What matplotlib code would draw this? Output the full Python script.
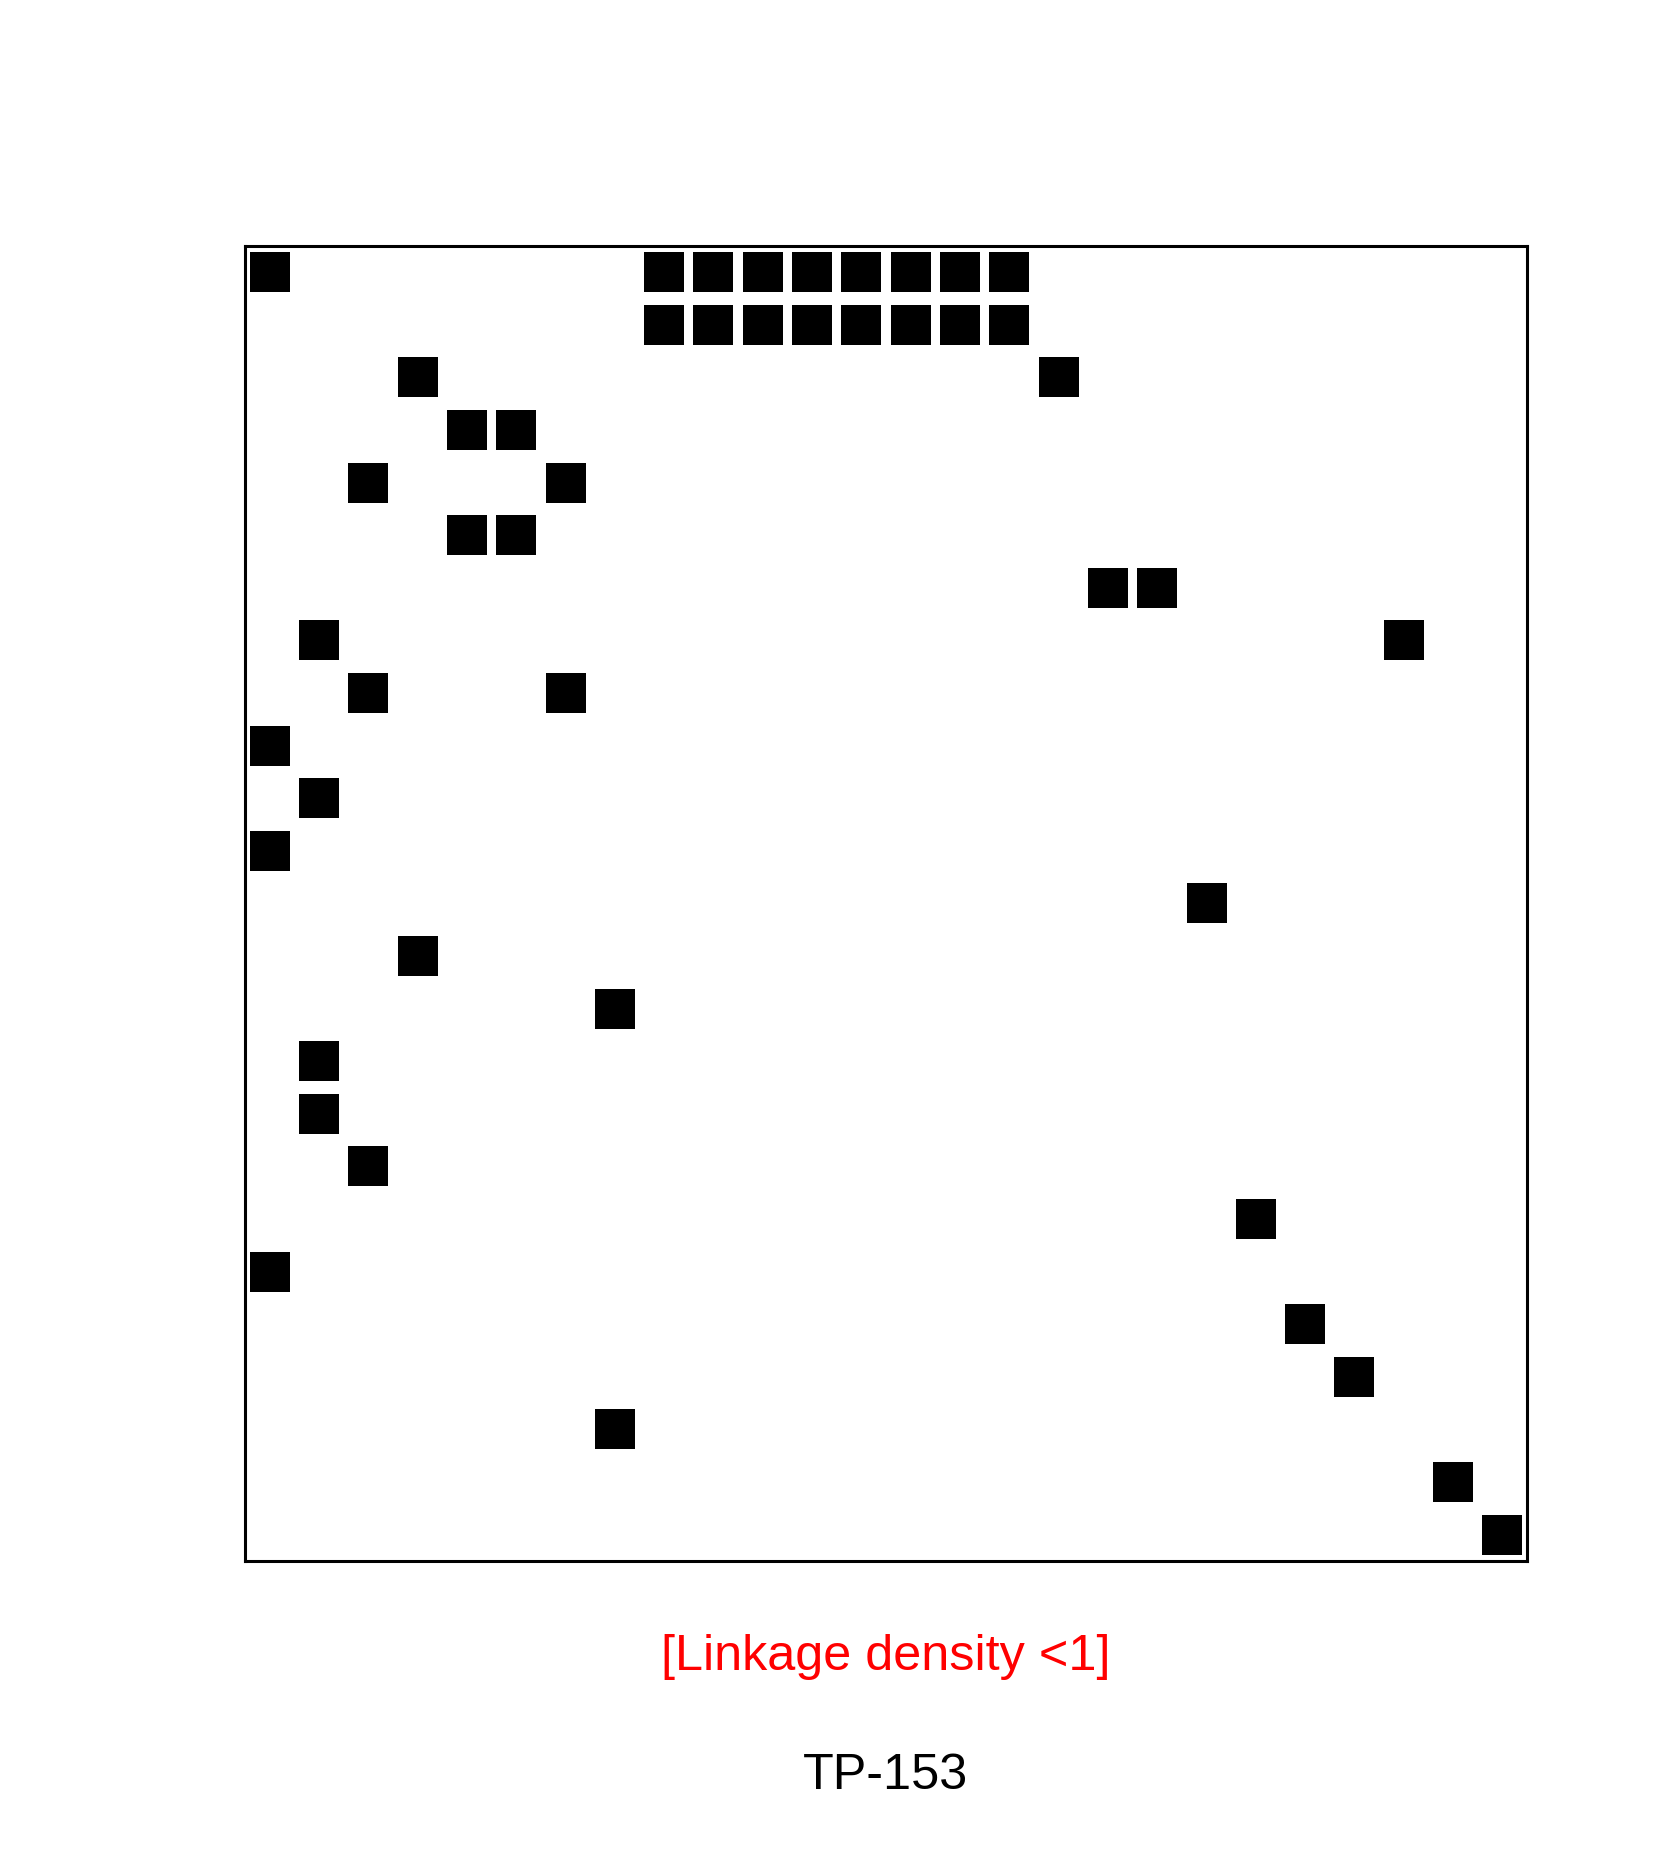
import matplotlib.pyplot as plt
import numpy as np

plt.rcParams['font.family'] = ['Liberation Sans', 'DejaVu Sans']

# predation matrix: for each row (consumer index) the columns holding a link
n_rows = 25
n_cols = 26
row_links = [
    [0, 8, 9, 10, 11, 12, 13, 14, 15],
    [8, 9, 10, 11, 12, 13, 14, 15],
    [3, 16],
    [4, 5],
    [2, 6],
    [4, 5],
    [17, 18],
    [1, 23],
    [2, 6],
    [0],
    [1],
    [0],
    [19],
    [3],
    [7],
    [1],
    [1],
    [2],
    [20],
    [0],
    [21],
    [22],
    [7],
    [24],
    [25],
]
subtitle = '[Linkage density <1]'
title = 'TP-153'

rows = []
cols = []
for r, links in enumerate(row_links):
    for c in links:
        rows.append(r)
        cols.append(c)

W, H = 1653, 1867
fig = plt.figure(figsize=(W / 100, H / 100), dpi=100)
ax = fig.add_axes([245 / W, 1 - 1561 / H, (1527 - 245) / W, (1561 - 246) / H])

# square markers, ~40 px side
side_pt = 40 * 72 / 100
ax.scatter(cols, rows, marker='s', s=side_pt ** 2, color='black', linewidths=0)

ax.set_xlim(-0.5, n_cols - 0.5)
ax.set_ylim(n_rows - 0.5, -0.5)
ax.set_xticks([])
ax.set_yticks([])
for sp in ax.spines.values():
    sp.set_linewidth(2.2)

xc = (245 + 1527) / 2 / W
fig.text(xc, 1 - 1670 / H, subtitle, color='red', fontsize=36.3,
         ha='center', va='baseline')
fig.text(xc, 1 - 1789 / H, title, color='black', fontsize=36.3,
         ha='center', va='baseline')

fig.savefig('out.png', dpi=100, facecolor='white')
